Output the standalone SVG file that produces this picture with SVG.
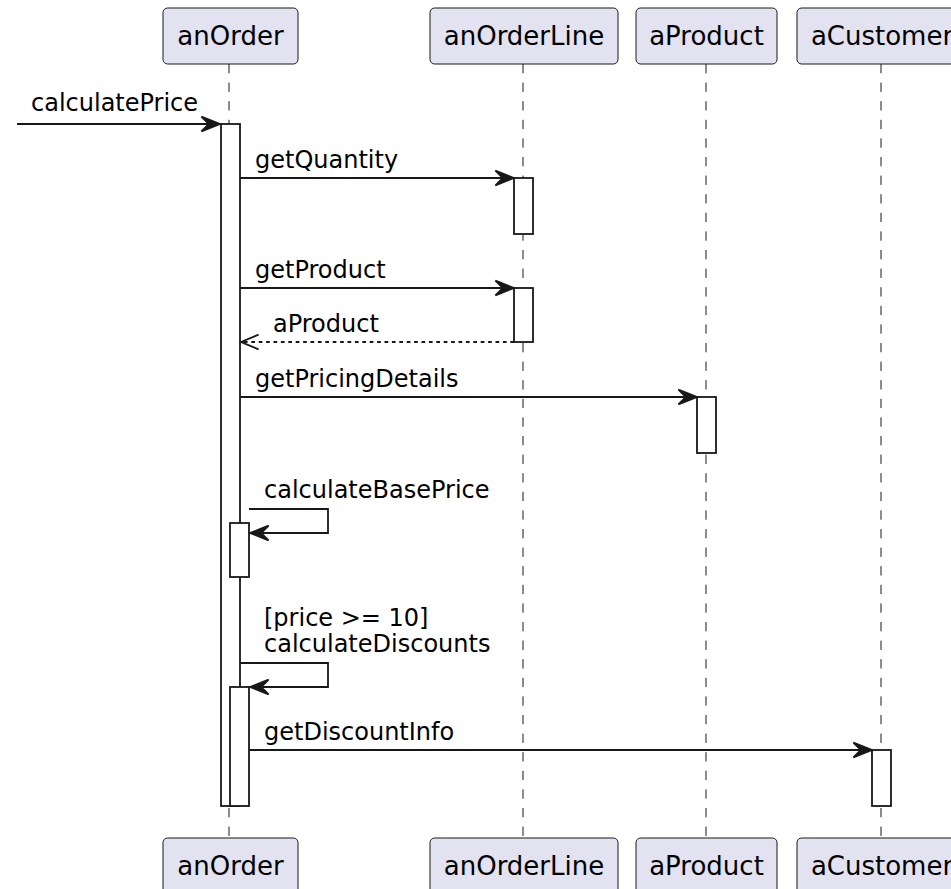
<svg xmlns="http://www.w3.org/2000/svg" width="951" height="889" viewBox="0 0 951 889">
  <style>
    .part rect { fill: #E2E2F0; stroke: #181818; stroke-width: 1; }
    .part text { font-family: "DejaVu Sans", "Noto Sans", sans-serif; font-size: 26px; fill: #000; text-anchor: middle; }
    .life { stroke: #181818; stroke-width: 1; stroke-dasharray: 9.3 9.3; fill: none; }
    .act { fill: #FFFFFF; stroke: #181818; stroke-width: 1.8; }
    .msg { stroke: #181818; stroke-width: 1.8; fill: none; }
    .ret { stroke: #181818; stroke-width: 1.8; fill: none; stroke-dasharray: 3.7 3.7; }
    .head { fill: #181818; stroke: #181818; stroke-width: 1.8; stroke-linejoin: miter; }
    .open { fill: none; stroke: #181818; stroke-width: 1.8; }
    .lbl { font-family: "DejaVu Sans", "Noto Sans", sans-serif; font-size: 24px; fill: #000; }
  </style>

  <!-- lifelines -->
  <g id="lifelines">
    <line class="life" x1="229" y1="64" x2="229" y2="838"/>
    <line class="life" x1="523" y1="64" x2="523" y2="838"/>
    <line class="life" x1="706" y1="64" x2="706" y2="838"/>
    <line class="life" x1="881" y1="64" x2="881" y2="838"/>
  </g>

  <!-- participants, head and foot -->
  <g id="anOrder" class="part">
    <rect x="163" y="8" width="135" height="56" rx="4.6"/>
    <text x="230.5" y="45">anOrder</text>
    <rect x="163" y="838" width="135" height="56" rx="4.6"/>
    <text x="230.5" y="875">anOrder</text>
  </g>
  <g id="anOrderLine" class="part">
    <rect x="430" y="8" width="188" height="56" rx="4.6"/>
    <text x="524" y="45">anOrderLine</text>
    <rect x="430" y="838" width="188" height="56" rx="4.6"/>
    <text x="524" y="875">anOrderLine</text>
  </g>
  <g id="aProduct" class="part">
    <rect x="636" y="8" width="141" height="56" rx="4.6"/>
    <text x="706.5" y="45">aProduct</text>
    <rect x="636" y="838" width="141" height="56" rx="4.6"/>
    <text x="706.5" y="875">aProduct</text>
  </g>
  <g id="aCustomer" class="part">
    <rect x="797" y="8" width="170" height="56" rx="4.6"/>
    <text x="882" y="45">aCustomer</text>
    <rect x="797" y="838" width="170" height="56" rx="4.6"/>
    <text x="882" y="875">aCustomer</text>
  </g>

  <!-- activation bars -->
  <g id="activations">
    <rect class="act" x="221" y="124" width="19" height="682"/>
    <rect class="act" x="514" y="178" width="19" height="56"/>
    <rect class="act" x="514" y="288" width="19" height="54"/>
    <rect class="act" x="697" y="397" width="19" height="56"/>
    <rect class="act" x="230" y="523" width="19" height="54"/>
    <rect class="act" x="230" y="687" width="19" height="119"/>
    <rect class="act" x="872" y="750" width="19" height="56"/>
  </g>

  <!-- messages -->
  <g id="connectors">
    <!-- calculatePrice -->
    <line class="msg" x1="17" y1="124" x2="216" y2="124"/>
    <polygon class="head" points="201.4,116.6 220,124 201.4,131.4 208.9,124"/>
    <text class="lbl" x="31" y="111">calculatePrice</text>

    <!-- getQuantity -->
    <line class="msg" x1="240" y1="178" x2="510" y2="178"/>
    <polygon class="head" points="495.4,170.6 514,178 495.4,185.4 502.9,178"/>
    <text class="lbl" x="255" y="168">getQuantity</text>

    <!-- getProduct -->
    <line class="msg" x1="240" y1="288" x2="510" y2="288"/>
    <polygon class="head" points="495.4,280.6 514,288 495.4,295.4 502.9,288"/>
    <text class="lbl" x="255" y="278">getProduct</text>

    <!-- aProduct (return) -->
    <line class="ret" x1="514" y1="342" x2="242" y2="342"/>
    <polyline class="open" points="258.6,334.6 241,342 258.6,349.4"/>
    <text class="lbl" x="273" y="332">aProduct</text>

    <!-- getPricingDetails -->
    <line class="msg" x1="240" y1="397" x2="693" y2="397"/>
    <polygon class="head" points="678.4,389.6 697,397 678.4,404.4 685.9,397"/>
    <text class="lbl" x="255" y="387">getPricingDetails</text>

    <!-- calculateBasePrice (self) -->
    <polyline class="msg" points="249,509 328,509 328,533 254,533"/>
    <polygon class="head" points="268.6,525.6 250,533 268.6,540.4 261.1,533"/>
    <text class="lbl" x="264" y="498">calculateBasePrice</text>

    <!-- calculateDiscounts (self, guarded) -->
    <polyline class="msg" points="240,663 328,663 328,687 254,687"/>
    <polygon class="head" points="268.6,679.6 250,687 268.6,694.4 261.1,687"/>
    <text class="lbl" x="264" y="626">[price &gt;= 10]</text>
    <text class="lbl" x="264" y="652">calculateDiscounts</text>

    <!-- getDiscountInfo -->
    <line class="msg" x1="249" y1="750" x2="868" y2="750"/>
    <polygon class="head" points="853.4,742.6 872,750 853.4,757.4 860.9,750"/>
    <text class="lbl" x="264" y="740">getDiscountInfo</text>
  </g>
</svg>
